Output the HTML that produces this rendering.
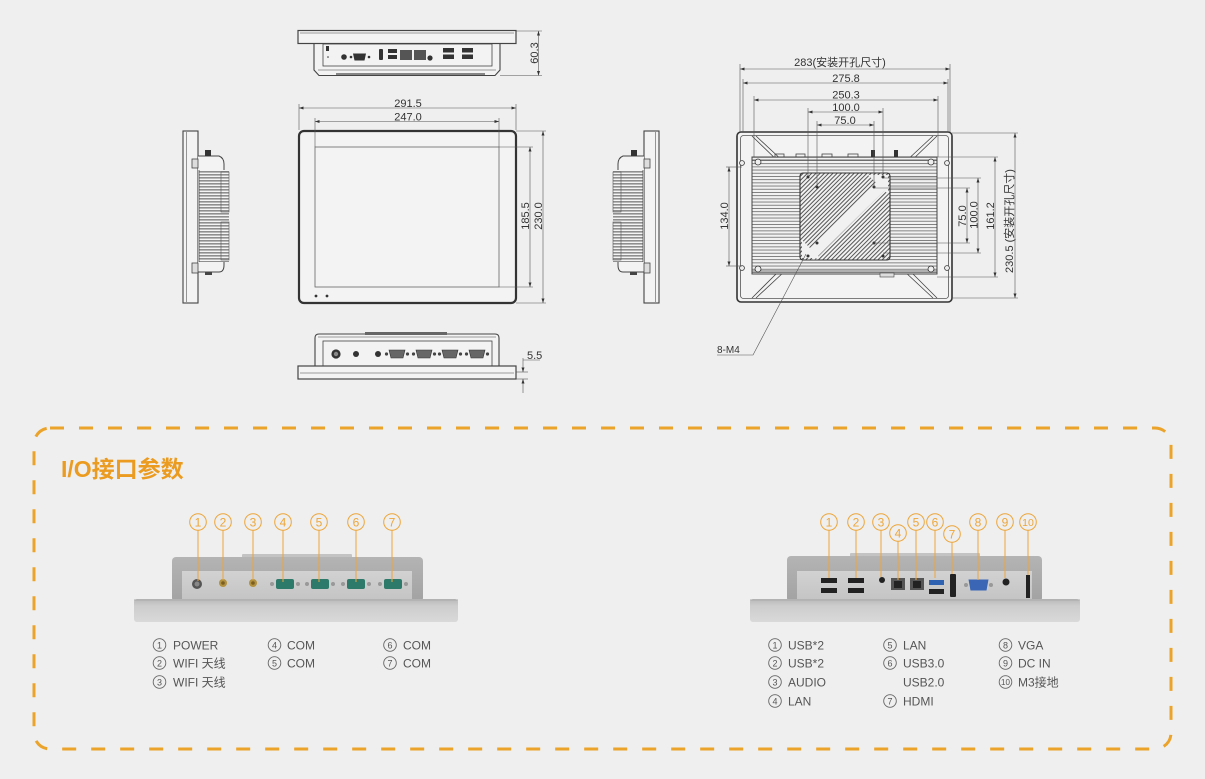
<!DOCTYPE html>
<html><head><meta charset="utf-8"><style>
html,body{margin:0;padding:0;background:#efefef;}
svg{display:block;}
text{font-family:"Liberation Sans","Noto Sans CJK SC",sans-serif;}
</style></head><body>
<svg width="1205" height="779" viewBox="0 0 1205 779" xmlns="http://www.w3.org/2000/svg">
<defs>
<marker id="ar" viewBox="0 0 6 4" refX="6" refY="2" markerWidth="6" markerHeight="3" markerUnits="userSpaceOnUse" orient="auto-start-reverse"><path d="M0,0 L6,2 L0,4z" fill="#333"/></marker>
<pattern id="fins" width="6" height="3" patternUnits="userSpaceOnUse"><rect width="6" height="3" fill="#f4f4f4"/><rect width="6" height="1.6" fill="#8f8f8f"/></pattern>
<pattern id="rfins" width="6" height="3.2" patternUnits="userSpaceOnUse"><rect width="6" height="3.2" fill="#f1f1f1"/><rect width="6" height="0.9" fill="#777"/></pattern>
<pattern id="hatch" width="3" height="3" patternUnits="userSpaceOnUse" patternTransform="rotate(45)"><rect width="3" height="3" fill="#f1f1f1"/><rect width="1" height="3" fill="#555"/></pattern>
<linearGradient id="bz" x1="0" y1="0" x2="0" y2="1"><stop offset="0" stop-color="#b9b9b9"/><stop offset=".3" stop-color="#cdcdcd"/><stop offset="1" stop-color="#d9d9d9"/></linearGradient>
<linearGradient id="bd" x1="0" y1="0" x2="0" y2="1"><stop offset="0" stop-color="#b4b4b4"/><stop offset="1" stop-color="#a2a2a2"/></linearGradient>
<linearGradient id="pl" x1="0" y1="0" x2="0" y2="1"><stop offset="0" stop-color="#d2d2d2"/><stop offset="1" stop-color="#c4c4c4"/></linearGradient>
</defs>

<!-- ============ TOP VIEW ============ -->
<g fill="none" stroke="#444">
<path d="M314,43 L314,70 L319,75.5 L495,75.5 L500,70 L500,43" fill="#f3f3f3" stroke-width="1.1"/>
<rect x="298" y="30.5" width="218" height="13" fill="#f3f3f3" stroke-width="1.2"/>
<line x1="300" y1="33" x2="514" y2="33" stroke-width=".6"/>
<rect x="323" y="44" width="169" height="22" stroke-width=".8"/>
<line x1="318" y1="70" x2="496" y2="70" stroke-width=".6"/>
<line x1="336" y1="74" x2="485" y2="74" stroke-width="1.2"/>
</g>
<g fill="#333">
<rect x="326" y="46" width="3" height="5"/><circle cx="328" cy="57" r=".8"/>
<circle cx="344" cy="57" r="2.8"/>
<circle cx="351" cy="57" r="1.3"/><circle cx="369" cy="57" r="1.3"/>
<path d="M353,53.5 h13 l-1.5,7 h-10z"/>
<rect x="379" y="49" width="4" height="11" rx="1"/>
<rect x="388" y="49" width="9" height="4"/><rect x="388" y="55" width="9" height="4"/>
<rect x="400" y="50" width="12" height="10" fill="#555"/><rect x="414" y="50" width="12" height="10" fill="#555"/>
<circle cx="430" cy="58" r="2.6"/>
<rect x="443" y="48" width="11" height="4.5"/><rect x="443" y="54.5" width="11" height="4.5"/>
<rect x="462" y="48" width="11" height="4.5"/><rect x="462" y="54.5" width="11" height="4.5"/>
</g>
<g stroke="#555" stroke-width=".6">
<line x1="516" y1="31" x2="542" y2="31"/><line x1="500" y1="75.5" x2="542" y2="75.5"/>
<line x1="538.5" y1="31" x2="538.5" y2="75.5" marker-start="url(#ar)" marker-end="url(#ar)"/>
</g>
<text transform="translate(538,53) rotate(-90)" font-size="11" text-anchor="middle" fill="#333">60.3</text>

<!-- ============ FRONT VIEW ============ -->
<rect x="299" y="131" width="217" height="172" rx="5" fill="#f3f3f3" stroke="#333" stroke-width="2.2"/>
<rect x="315" y="147" width="184" height="140" fill="none" stroke="#666" stroke-width=".8"/>
<circle cx="316" cy="296" r="1.4" fill="#333"/><circle cx="327" cy="296" r="1.4" fill="#333"/>
<g stroke="#555" stroke-width=".6">
<line x1="299" y1="104" x2="299" y2="130"/><line x1="516" y1="104" x2="516" y2="130"/>
<line x1="299" y1="108" x2="516" y2="108" marker-start="url(#ar)" marker-end="url(#ar)"/>
<line x1="315" y1="118" x2="315" y2="147"/><line x1="499" y1="118" x2="499" y2="147"/>
<line x1="315" y1="121.5" x2="499" y2="121.5" marker-start="url(#ar)" marker-end="url(#ar)"/>
<line x1="499" y1="147" x2="533" y2="147"/><line x1="499" y1="287" x2="533" y2="287"/>
<line x1="530" y1="147" x2="530" y2="287" marker-start="url(#ar)" marker-end="url(#ar)"/>
<line x1="516" y1="131" x2="546" y2="131"/><line x1="516" y1="303" x2="546" y2="303"/>
<line x1="543" y1="131" x2="543" y2="303" marker-start="url(#ar)" marker-end="url(#ar)"/>
</g>
<text x="408" y="107" font-size="11" text-anchor="middle" fill="#333">291.5</text>
<text x="408" y="120.5" font-size="11" text-anchor="middle" fill="#333">247.0</text>
<text transform="translate(529,216) rotate(-90)" font-size="11" text-anchor="middle" fill="#333">185.5</text>
<text transform="translate(542,216) rotate(-90)" font-size="11" text-anchor="middle" fill="#333">230.0</text>

<!-- ============ SIDE VIEWS ============ -->
<g id="sideL">
<rect x="183" y="131" width="15" height="172" fill="#f3f3f3" stroke="#444" stroke-width="1.1"/>
<line x1="186.5" y1="132" x2="186.5" y2="302" stroke="#555" stroke-width=".6"/>
<path d="M198,156 L219,156 Q224,158 224,164 L224,265 Q224,272 219,272 L198,272" fill="#f3f3f3" stroke="#444" stroke-width="1"/>
<rect x="199" y="170" width="30" height="92" fill="url(#fins)"/>
<rect x="221" y="172" width="8" height="40" fill="none" stroke="#555" stroke-width=".6"/>
<rect x="221" y="222" width="8" height="38" fill="none" stroke="#555" stroke-width=".6"/>
<line x1="199" y1="170" x2="199" y2="262" stroke="#444" stroke-width=".8"/>
<rect x="205" y="150" width="6" height="6" fill="#333"/>
<rect x="192" y="159" width="6" height="9" fill="#ddd" stroke="#444" stroke-width=".8"/>
<rect x="192" y="263" width="6" height="10" fill="#ddd" stroke="#444" stroke-width=".8"/>
<rect x="205" y="272" width="7" height="3" fill="#444"/>
</g>
<use href="#sideL" transform="translate(842,0) scale(-1,1)"/>

<!-- ============ BOTTOM VIEW ============ -->
<g fill="none" stroke="#444">
<path d="M315,367 L315,338 Q315,334 319,334 L495,334 Q499,334 499,338 L499,367" fill="#f3f3f3" stroke-width="1.1"/>
<rect x="323" y="341" width="169" height="25" stroke-width=".8"/>
<line x1="318" y1="337" x2="496" y2="337" stroke-width=".6"/>
<rect x="298" y="366" width="218" height="13" fill="#f3f3f3" stroke-width="1.2"/>
<line x1="300" y1="373" x2="514" y2="373" stroke-width=".6"/>
</g>
<rect x="365" y="332" width="82" height="3" fill="#666"/>
<g fill="#333">
<circle cx="336" cy="354" r="4.6"/><circle cx="336" cy="354" r="2.2" fill="#888"/>
<circle cx="356" cy="354" r="3"/><circle cx="378" cy="354" r="3"/>
</g>
<g fill="#444">
<g transform="translate(397,354)"><circle cx="-10.5" cy="0" r="1.6"/><circle cx="10.5" cy="0" r="1.6"/><path d="M-8,-4 h16 l-2,8 h-12z" fill="#666" stroke="#333" stroke-width=".6"/></g>
<g transform="translate(424,354)"><circle cx="-10.5" cy="0" r="1.6"/><circle cx="10.5" cy="0" r="1.6"/><path d="M-8,-4 h16 l-2,8 h-12z" fill="#666" stroke="#333" stroke-width=".6"/></g>
<g transform="translate(450,354)"><circle cx="-10.5" cy="0" r="1.6"/><circle cx="10.5" cy="0" r="1.6"/><path d="M-8,-4 h16 l-2,8 h-12z" fill="#666" stroke="#333" stroke-width=".6"/></g>
<g transform="translate(477,354)"><circle cx="-10.5" cy="0" r="1.6"/><circle cx="10.5" cy="0" r="1.6"/><path d="M-8,-4 h16 l-2,8 h-12z" fill="#666" stroke="#333" stroke-width=".6"/></g>
</g>
<g stroke="#555" stroke-width=".6">
<line x1="516" y1="372" x2="528" y2="372"/><line x1="516" y1="379" x2="528" y2="379"/>
<line x1="523" y1="358" x2="523" y2="372" marker-end="url(#ar)"/>
<line x1="523" y1="393" x2="523" y2="379" marker-end="url(#ar)"/>
<line x1="523" y1="360" x2="540" y2="360"/>
</g>
<text x="527" y="359" font-size="11" fill="#333">5.5</text>

<!-- ============ REAR VIEW ============ -->
<rect x="737" y="132" width="215" height="170" rx="4" fill="#f3f3f3" stroke="#333" stroke-width="1.6"/>
<rect x="740.5" y="135.5" width="208" height="163" rx="3" fill="none" stroke="#555" stroke-width=".8"/>
<g stroke="#444" stroke-width=".8">
<line x1="752" y1="136" x2="782" y2="165"/><line x1="756" y1="136" x2="785" y2="163"/>
<line x1="937" y1="136" x2="907" y2="165"/><line x1="933" y1="136" x2="904" y2="163"/>
<line x1="752" y1="298" x2="782" y2="268"/><line x1="756" y1="298" x2="785" y2="271"/>
<line x1="937" y1="298" x2="907" y2="268"/><line x1="933" y1="298" x2="904" y2="271"/>
</g>
<rect x="752" y="157" width="185" height="117" fill="url(#rfins)" stroke="#444" stroke-width="1"/>
<line x1="752" y1="160" x2="937" y2="160" stroke="#444" stroke-width=".8"/>
<line x1="752" y1="271" x2="937" y2="271" stroke="#444" stroke-width=".8"/>
<g fill="#eee" stroke="#333" stroke-width=".8">
<circle cx="758" cy="162" r="3"/><circle cx="931" cy="162" r="3"/><circle cx="758" cy="269" r="3"/><circle cx="931" cy="269" r="3"/>
<circle cx="742" cy="163" r="2.4"/><circle cx="947" cy="163" r="2.4"/><circle cx="742" cy="268" r="2.4"/><circle cx="947" cy="268" r="2.4"/>
</g>
<g fill="none" stroke="#444" stroke-width=".8">
<rect x="775" y="154" width="9" height="3"/><rect x="796" y="154" width="9" height="3"/><rect x="822" y="154" width="10" height="3"/><rect x="848" y="154" width="10" height="3"/>
</g>
<rect x="871" y="150" width="4" height="7" fill="#333"/><rect x="894" y="150" width="4" height="7" fill="#333"/>
<rect x="880" y="273" width="14" height="4" fill="#ddd" stroke="#444" stroke-width=".6"/>
<rect x="800" y="173" width="90" height="87" rx="3" fill="url(#hatch)" stroke="#333" stroke-width="1.1"/>
<path d="M806,252 L879,180 L887,188 L814,260z" fill="#f1f1f1"/>
<path d="M868,175 L888,175 L888,194z" fill="#f1f1f1"/>
<path d="M802,240 L802,258 L820,258z" fill="#f1f1f1"/>
<g fill="#333">
<circle cx="808" cy="177" r="1.5"/><circle cx="883" cy="177" r="1.5"/><circle cx="808" cy="256" r="1.5"/><circle cx="883" cy="256" r="1.5"/>
<circle cx="817" cy="187" r="1.5"/><circle cx="874" cy="187" r="1.5"/><circle cx="817" cy="243" r="1.5"/><circle cx="874" cy="243" r="1.5"/>
</g>
<g stroke="#555" stroke-width=".6">
<line x1="740" y1="64" x2="740" y2="132"/><line x1="950" y1="64" x2="950" y2="132"/>
<line x1="740" y1="69" x2="950" y2="69" marker-start="url(#ar)" marker-end="url(#ar)"/>
<line x1="743" y1="79" x2="743" y2="132"/><line x1="948" y1="79" x2="948" y2="132"/>
<line x1="743" y1="83" x2="948" y2="83" marker-start="url(#ar)" marker-end="url(#ar)"/>
<line x1="754" y1="96" x2="754" y2="157"/><line x1="938" y1="96" x2="938" y2="157"/>
<line x1="754" y1="100" x2="938" y2="100" marker-start="url(#ar)" marker-end="url(#ar)"/>
<line x1="808" y1="108" x2="808" y2="176"/><line x1="883" y1="108" x2="883" y2="176"/>
<line x1="808" y1="112" x2="883" y2="112" marker-start="url(#ar)" marker-end="url(#ar)"/>
<line x1="817" y1="121" x2="817" y2="187"/><line x1="874" y1="121" x2="874" y2="187"/>
<line x1="817" y1="125" x2="874" y2="125" marker-start="url(#ar)" marker-end="url(#ar)"/>
<line x1="742" y1="167" x2="726" y2="167"/><line x1="742" y1="266" x2="726" y2="266"/>
<line x1="729" y1="167" x2="729" y2="266" marker-start="url(#ar)" marker-end="url(#ar)"/>
<line x1="874" y1="188" x2="970" y2="188"/><line x1="874" y1="243" x2="970" y2="243"/>
<line x1="967" y1="188" x2="967" y2="243" marker-start="url(#ar)" marker-end="url(#ar)"/>
<line x1="883" y1="178" x2="981" y2="178"/><line x1="883" y1="253" x2="981" y2="253"/>
<line x1="978" y1="178" x2="978" y2="253" marker-start="url(#ar)" marker-end="url(#ar)"/>
<line x1="937" y1="157" x2="998" y2="157"/><line x1="937" y1="277" x2="998" y2="277"/>
<line x1="995" y1="157" x2="995" y2="277" marker-start="url(#ar)" marker-end="url(#ar)"/>
<line x1="952" y1="133" x2="1018" y2="133"/><line x1="952" y1="298" x2="1018" y2="298"/>
<line x1="1015" y1="133" x2="1015" y2="298" marker-start="url(#ar)" marker-end="url(#ar)"/>
<polyline points="806,254 753,355 717,355" fill="none"/>
</g>
<g font-size="11" fill="#333" text-anchor="middle">
<text x="840" y="66">283(安装开孔尺寸)</text>
<text x="846" y="82">275.8</text>
<text x="846" y="98.5">250.3</text>
<text x="846" y="111">100.0</text>
<text x="845" y="124">75.0</text>
<text transform="translate(728,216) rotate(-90)">134.0</text>
<text transform="translate(966,216) rotate(-90)">75.0</text>
<text transform="translate(977.5,215) rotate(-90)">100.0</text>
<text transform="translate(994,216) rotate(-90)">161.2</text>
<text transform="translate(1013,221) rotate(-90)">230.5 (安装开孔尺寸)</text>
</g>
<text x="717" y="353" font-size="10" fill="#333">8-M4</text>

<!-- ============ IO SECTION ============ -->
<rect x="34" y="428" width="1137" height="321" rx="16" fill="none" stroke="#eba32a" stroke-width="3" stroke-dasharray="14 15"/>
<text x="61" y="477" font-size="23" font-weight="bold" fill="#eb9b1f">I/O接口参数</text>

<!-- left photo -->
<rect x="242" y="554" width="110" height="4" rx="1" fill="#c3c3c3"/>
<rect x="172" y="557" width="251" height="45" rx="4" fill="url(#bd)"/>
<rect x="182" y="571" width="230" height="29" fill="url(#pl)"/>
<rect x="134" y="599" width="324" height="23" rx="3" fill="url(#bz)"/>
<line x1="134" y1="600" x2="458" y2="600" stroke="#aaa" stroke-width="1"/>
<circle cx="197" cy="584" r="5" fill="#555"/><circle cx="197" cy="584" r="2.5" fill="#888"/>
<circle cx="223" cy="583" r="4" fill="#b3923f"/><circle cx="223" cy="583" r="1.8" fill="#7a5e22"/>
<circle cx="253" cy="583" r="4" fill="#b3923f"/><circle cx="253" cy="583" r="1.8" fill="#7a5e22"/>
<g fill="#2d7a6a">
<g transform="translate(285,584)"><circle cx="-13" cy="0" r="2" fill="#999"/><circle cx="13" cy="0" r="2" fill="#999"/><rect x="-9" y="-5" width="18" height="10" rx="2"/></g>
<g transform="translate(320,584)"><circle cx="-13" cy="0" r="2" fill="#999"/><circle cx="13" cy="0" r="2" fill="#999"/><rect x="-9" y="-5" width="18" height="10" rx="2"/></g>
<g transform="translate(356,584)"><circle cx="-13" cy="0" r="2" fill="#999"/><circle cx="13" cy="0" r="2" fill="#999"/><rect x="-9" y="-5" width="18" height="10" rx="2"/></g>
<g transform="translate(393,584)"><circle cx="-13" cy="0" r="2" fill="#999"/><circle cx="13" cy="0" r="2" fill="#999"/><rect x="-9" y="-5" width="18" height="10" rx="2"/></g>
</g>
<g stroke="#eda63a" stroke-width="1" fill="none">
<circle cx="198" cy="522" r="8.3"/><line x1="198" y1="530.3" x2="198" y2="581"/>
<circle cx="223" cy="522" r="8.3"/><line x1="223" y1="530.3" x2="223" y2="580"/>
<circle cx="253" cy="522" r="8.3"/><line x1="253" y1="530.3" x2="253" y2="580"/>
<circle cx="283" cy="522" r="8.3"/><line x1="283" y1="530.3" x2="283" y2="582"/>
<circle cx="319" cy="522" r="8.3"/><line x1="319" y1="530.3" x2="319" y2="582"/>
<circle cx="356" cy="522" r="8.3"/><line x1="356" y1="530.3" x2="356" y2="582"/>
<circle cx="392" cy="522" r="8.3"/><line x1="392" y1="530.3" x2="392" y2="582"/>
</g>
<g font-size="12" fill="#eda63a" text-anchor="middle">
<text x="198" y="526.5">1</text><text x="223" y="526.5">2</text><text x="253" y="526.5">3</text><text x="283" y="526.5">4</text><text x="319" y="526.5">5</text><text x="356" y="526.5">6</text><text x="392" y="526.5">7</text>
</g>

<!-- right photo -->
<rect x="850" y="553" width="130" height="4" rx="1" fill="#c3c3c3"/>
<rect x="787" y="556" width="255" height="46" rx="4" fill="url(#bd)"/>
<rect x="797" y="571" width="235" height="29" fill="url(#pl)"/>
<rect x="750" y="599" width="330" height="23" rx="3" fill="url(#bz)"/>
<line x1="750" y1="600" x2="1080" y2="600" stroke="#aaa" stroke-width="1"/>
<g fill="#222">
<rect x="821" y="578" width="16" height="5"/><rect x="821" y="588" width="16" height="5"/>
<rect x="848" y="578" width="16" height="5"/><rect x="848" y="588" width="16" height="5"/>
<circle cx="882" cy="580" r="3"/>
<rect x="891" y="578" width="14" height="12" fill="#555"/><rect x="894" y="581" width="8" height="7"/>
<rect x="910" y="578" width="14" height="12" fill="#555"/><rect x="913" y="581" width="8" height="7"/>
<rect x="929" y="580" width="15" height="5" fill="#2f62b0"/><rect x="929" y="589" width="15" height="5"/>
<rect x="950" y="574" width="6" height="23" rx="1"/>
<circle cx="966" cy="585" r="2" fill="#999"/><circle cx="991" cy="585" r="2" fill="#999"/>
<path d="M968.5,579.5 h20 l-2,11 h-16z" fill="#3a66b5"/>
<circle cx="1006" cy="582" r="3.5"/>
<rect x="1026" y="575" width="4" height="23"/>
</g>
<g stroke="#eda63a" stroke-width="1" fill="none">
<circle cx="829" cy="522" r="8.3"/><line x1="829" y1="530.3" x2="829" y2="578"/>
<circle cx="856" cy="522" r="8.3"/><line x1="856" y1="530.3" x2="856" y2="578"/>
<circle cx="881" cy="522" r="8.3"/><line x1="881" y1="530.3" x2="881" y2="577"/>
<circle cx="898" cy="533" r="8.3"/><line x1="898" y1="541.3" x2="898" y2="580"/>
<circle cx="916" cy="522" r="8.3"/><line x1="916" y1="530.3" x2="916" y2="580"/>
<circle cx="935" cy="522" r="8.3"/><line x1="935" y1="530.3" x2="935" y2="578"/>
<circle cx="952" cy="534" r="8.3"/><line x1="952" y1="542.3" x2="952" y2="574"/>
<circle cx="978" cy="522" r="8.3"/><line x1="978" y1="530.3" x2="978" y2="580"/>
<circle cx="1005" cy="522" r="8.3"/><line x1="1005" y1="530.3" x2="1005" y2="578"/>
<circle cx="1028" cy="522" r="8.3"/><line x1="1028" y1="530.3" x2="1028" y2="575"/>
</g>
<g font-size="12" fill="#eda63a" text-anchor="middle">
<text x="829" y="526.5">1</text><text x="856" y="526.5">2</text><text x="881" y="526.5">3</text><text x="898" y="537.5">4</text><text x="916" y="526.5">5</text><text x="935" y="526.5">6</text><text x="952" y="538.5">7</text><text x="978" y="526.5">8</text><text x="1005" y="526.5">9</text><text x="1028" y="526" font-size="10.5">10</text>
</g>

<!-- legends -->
<g fill="none" stroke="#666" stroke-width=".9">
<circle cx="159.5" cy="645" r="6.3"/><circle cx="159.5" cy="663" r="6.3"/><circle cx="159.5" cy="682" r="6.3"/>
<circle cx="274.5" cy="645" r="6.3"/><circle cx="274.5" cy="663" r="6.3"/>
<circle cx="390" cy="645" r="6.3"/><circle cx="390" cy="663" r="6.3"/>
<circle cx="775" cy="645" r="6.3"/><circle cx="775" cy="663" r="6.3"/><circle cx="775" cy="682" r="6.3"/><circle cx="775" cy="701" r="6.3"/>
<circle cx="890" cy="645" r="6.3"/><circle cx="890" cy="663" r="6.3"/><circle cx="890" cy="701" r="6.3"/>
<circle cx="1005.5" cy="645" r="6.3"/><circle cx="1005.5" cy="663" r="6.3"/><circle cx="1005.5" cy="682" r="6.3"/>
</g>
<g font-size="9" fill="#555" text-anchor="middle">
<text x="159.5" y="648.3">1</text><text x="159.5" y="666.3">2</text><text x="159.5" y="685.3">3</text>
<text x="274.5" y="648.3">4</text><text x="274.5" y="666.3">5</text>
<text x="390" y="648.3">6</text><text x="390" y="666.3">7</text>
<text x="775" y="648.3">1</text><text x="775" y="666.3">2</text><text x="775" y="685.3">3</text><text x="775" y="704.3">4</text>
<text x="890" y="648.3">5</text><text x="890" y="666.3">6</text><text x="890" y="704.3">7</text>
<text x="1005.5" y="648.3">8</text><text x="1005.5" y="666.3">9</text><text x="1005.5" y="685" font-size="8">10</text>
</g>
<g font-size="12" fill="#555">
<text x="173" y="649.5">POWER</text>
<text x="173" y="667.5">WIFI 天线</text>
<text x="173" y="686.5">WIFI 天线</text>
<text x="287" y="649.5">COM</text>
<text x="287" y="667.5">COM</text>
<text x="403" y="649.5">COM</text>
<text x="403" y="667.5">COM</text>
<text x="788" y="649.5">USB*2</text>
<text x="788" y="667.5">USB*2</text>
<text x="788" y="686.5">AUDIO</text>
<text x="788" y="705.5">LAN</text>
<text x="903" y="649.5">LAN</text>
<text x="903" y="667.5">USB3.0</text>
<text x="903" y="686.5">USB2.0</text>
<text x="903" y="705.5">HDMI</text>
<text x="1018" y="649.5">VGA</text>
<text x="1018" y="667.5">DC IN</text>
<text x="1018" y="686.5">M3接地</text>
</g>
</svg>
</body></html>
